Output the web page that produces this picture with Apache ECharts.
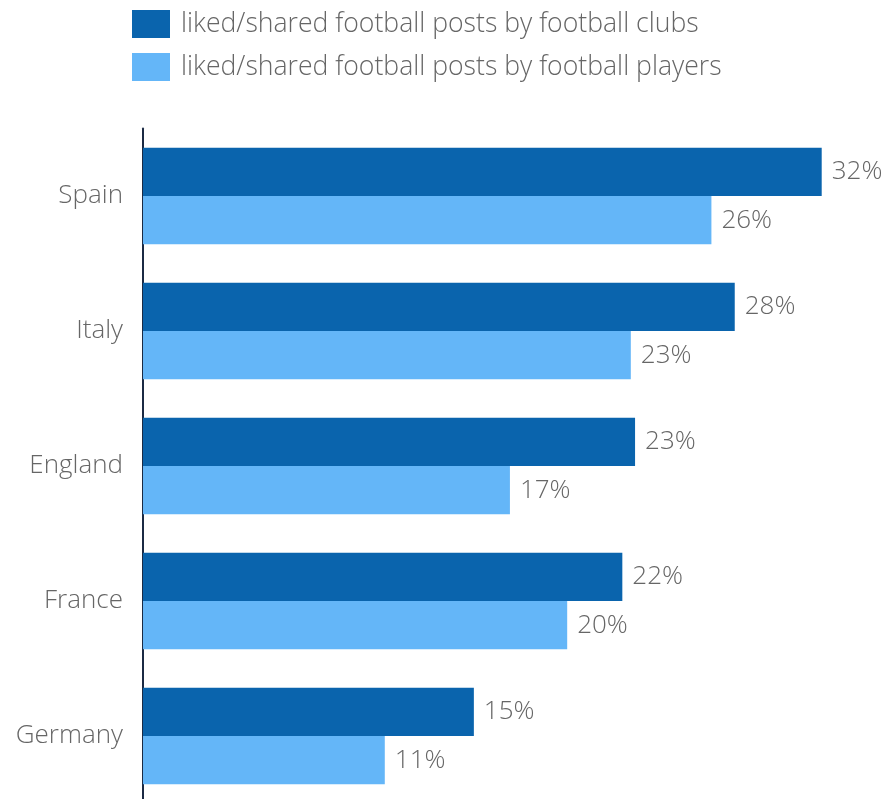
<!DOCTYPE html>
<html>
<head>
<meta charset="utf-8">
<script src="https://cdn.jsdelivr.net/npm/echarts@6/dist/echarts.min.js"></script>
<style>
html,body{margin:0;padding:0;background:#fff;}
#chart{width:887px;height:799px;}
</style>
</head>
<body>
<div id="chart"></div>
<script>
const categories = ['Spain', 'Italy', 'England', 'France', 'Germany'];
const seriesNames = ['liked/shared football posts by football clubs', 'liked/shared football posts by football players'];
const clubsValues = [32, 27.9, 23.2, 22.6, 15.6];
const playersValues = [26.8, 23.0, 17.3, 20.0, 11.4];
const clubsLabels = ['32%', '28%', '23%', '22%', '15%'];
const playersLabels = ['26%', '23%', '17%', '20%', '11%'];

const FONT = '"Open Sans", "Noto Sans", sans-serif';
const FS = 26;
const chart = echarts.init(document.getElementById('chart'));
chart.setOption({
  animation: false,
  textStyle: { fontFamily: FONT },
  legend: {
    orient: 'vertical',
    left: 132,
    top: 10,
    padding: 0,
    itemWidth: 38,
    itemHeight: 28,
    itemGap: 15,
    icon: 'rect',
    textStyle: { fontFamily: FONT, fontSize: 26.6, fontWeight: 300, color: '#666', padding: [4, 0, 0, 6] },
    data: seriesNames
  },
  grid: { left: 143, right: 65.3, top: 128.5, height: 675, containLabel: false, outerBoundsMode: 'none' },
  xAxis: {
    type: 'value', min: 0, max: 32,
    show: false
  },
  yAxis: {
    type: 'category',
    inverse: true,
    data: categories,
    axisLine: { show: true, lineStyle: { color: '#1b2a44', width: 2 } },
    axisTick: { show: false },
    axisLabel: { margin: 20, fontFamily: FONT, fontSize: FS, fontWeight: 300, color: '#666', padding: [4, 0, 0, 0] }
  },
  series: [
    {
      name: seriesNames[0], type: 'bar', data: clubsValues,
      barGap: '0%', barCategoryGap: '28.5%',
      itemStyle: { color: '#0a64ad' },
      label: { show: true, position: 'right', distance: 10, fontFamily: FONT, fontSize: FS, fontWeight: 300, color: '#666',
        padding: [4, 0, 0, 0],
        formatter: p => clubsLabels[p.dataIndex] }
    },
    {
      name: seriesNames[1], type: 'bar', data: playersValues,
      barGap: '0%', barCategoryGap: '28.5%',
      itemStyle: { color: '#64b6f8' },
      label: { show: true, position: 'right', distance: 10, fontFamily: FONT, fontSize: FS, fontWeight: 300, color: '#666',
        padding: [4, 0, 0, 0],
        formatter: p => playersLabels[p.dataIndex] }
    }
  ]
});
</script>
</body>
</html>
